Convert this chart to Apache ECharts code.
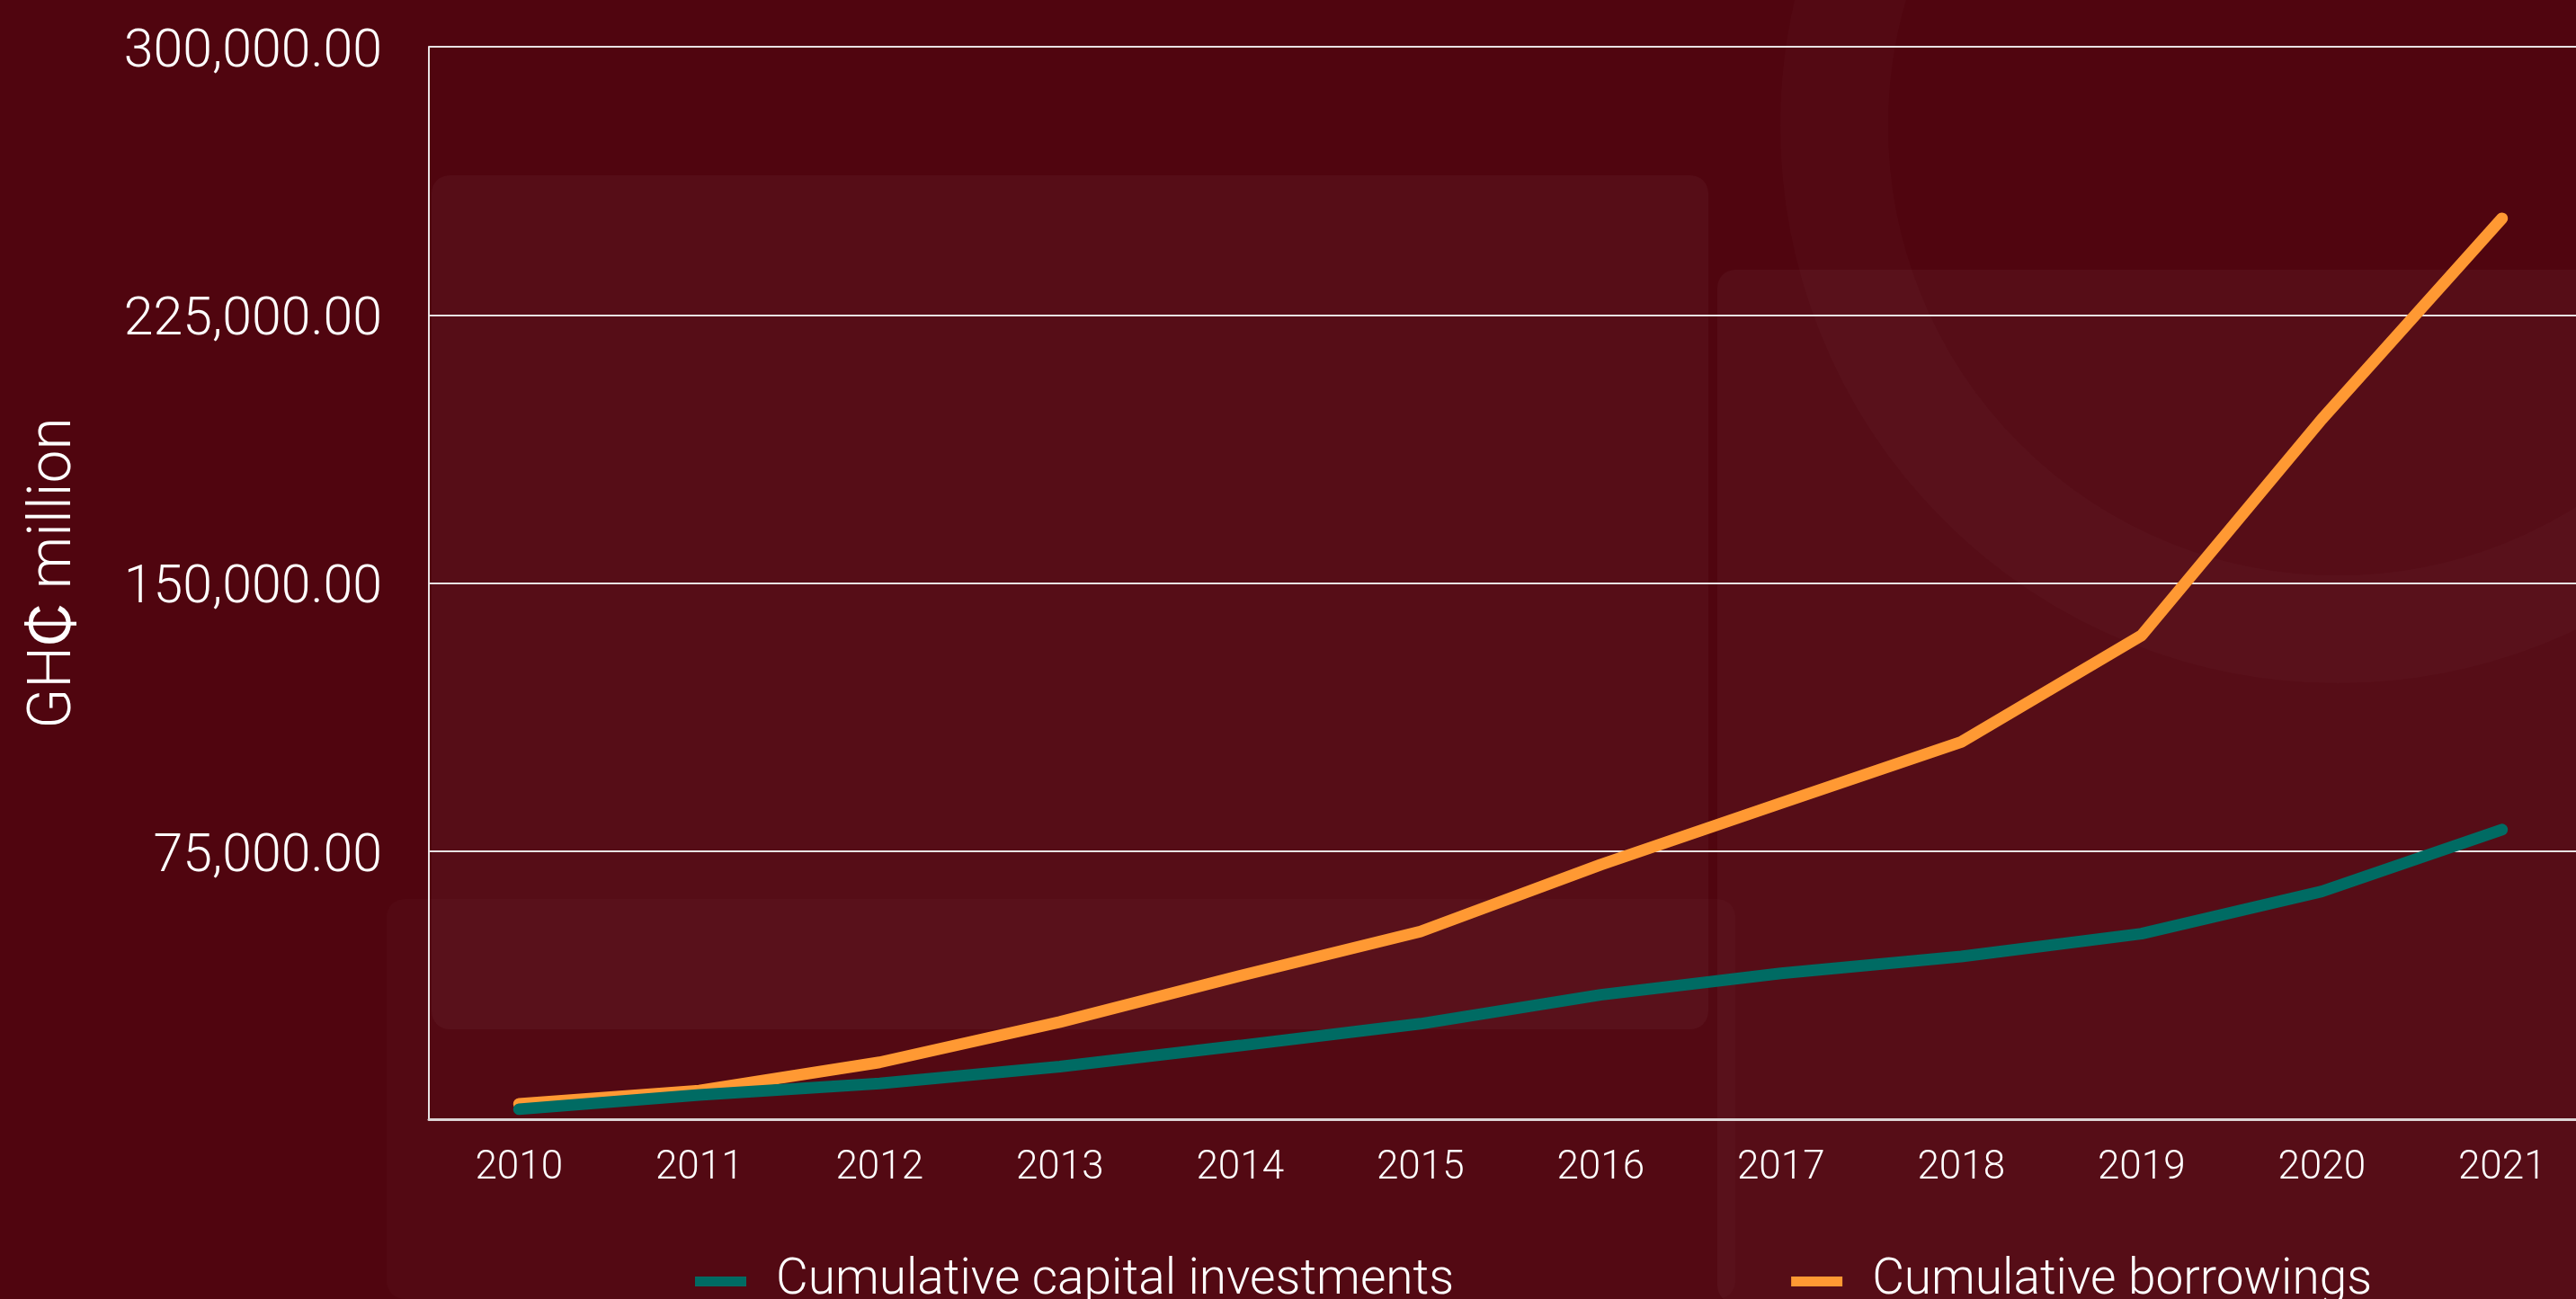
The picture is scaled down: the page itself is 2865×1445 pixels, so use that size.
<!DOCTYPE html>
<html>
<head>
<meta charset="utf-8">
<script src="https://cdn.jsdelivr.net/npm/echarts@6/dist/echarts.min.js"></script>
<style>
html,body{margin:0;padding:0;background:#50050f;overflow:hidden;}
#chart{width:2883px;height:1445px;}
</style>
</head>
<body>
<div id="chart"></div>
<script>
const years = ['2010','2011','2012','2013','2014','2015','2016','2017','2018','2019','2020','2021'];
const capitalInvestments = [2800, 6800, 10000, 14700, 20600, 26700, 34800, 40800, 45500, 51900, 63700, 81000];
const borrowings = [4300, 8000, 15900, 27200, 40100, 52500, 71200, 88400, 105500, 135300, 195800, 252000];
const yTicks = [0, 75000, 150000, 225000, 300000];
const seriesNames = ['Cumulative capital investments', 'Cumulative borrowings'];
const yAxisName = 'GH₵ million';

const FONT = 'Roboto, "Liberation Sans", sans-serif';
const chart = echarts.init(document.getElementById('chart'), null, {renderer: 'canvas'});

function fmt(v) {
  if (v === 0) return '';
  return '{t|' + v.toLocaleString('en-US', {minimumFractionDigits: 2, maximumFractionDigits: 2}) + '}';
}

chart.setOption({
  backgroundColor: '#50050f',
  animation: false,
  graphic: [
    {type: 'circle', z: -11, shape: {cx: 2600, cy: 140, r: 560}, style: {fill: 'none', stroke: 'rgba(255,255,255,0.018)', lineWidth: 120}},
    {type: 'rect', z: -10, shape: {x: 480, y: 195, width: 1420, height: 950, r: 20}, style: {fill: 'rgba(255,255,255,0.035)'}},
    {type: 'rect', z: -10, shape: {x: 1910, y: 300, width: 980, height: 1150, r: 20}, style: {fill: 'rgba(255,255,255,0.035)'}},
    {type: 'rect', z: -10, shape: {x: 430, y: 1000, width: 1500, height: 445, r: 20}, style: {fill: 'rgba(255,255,255,0.02)'}}
  ],
  grid: {left: 477, top: 52, right: 0, bottom: 200, containLabel: false},
  legend: {
    data: seriesNames,
    left: 768,
    top: 1393,
    itemGap: 375,
    itemWidth: 57,
    itemHeight: 11,
    icon: 'rect',
    textStyle: {color: '#ffffff', fontSize: 55, fontFamily: FONT, fontWeight: 300, padding: [0, 0, 0, 28]}
  },
  xAxis: {
    type: 'category',
    data: years,
    boundaryGap: true,
    axisTick: {show: false},
    axisLine: {lineStyle: {color: '#dcd4d5', width: 3}},
    axisLabel: {color: '#ffffff', fontSize: 44, fontFamily: FONT, fontWeight: 300, margin: 33},
    splitLine: {show: false}
  },
  yAxis: {
    type: 'value',
    min: yTicks[0],
    max: yTicks[yTicks.length - 1],
    interval: yTicks[1] - yTicks[0],
    name: yAxisName,
    nameLocation: 'middle',
    nameGap: 383,
    nameTextStyle: {color: '#ffffff', fontSize: 66, fontFamily: FONT, fontWeight: 300, padding: [0, 0, 0, 22]},
    axisLine: {show: true, lineStyle: {color: '#e8e2e3', width: 2}},
    axisTick: {show: false},
    axisLabel: {
      color: '#ffffff', fontSize: 59, fontFamily: FONT, fontWeight: 300, margin: 52, formatter: fmt,
      rich: {t: {color: '#ffffff', fontSize: 59, fontFamily: FONT, fontWeight: 300, padding: [14, 0, 0, 0]}}
    },
    splitLine: {lineStyle: {color: '#e8e2e3', width: 2}}
  },
  series: [
    {
      name: seriesNames[1], type: 'line', data: borrowings, symbol: 'none', z: 2,
      itemStyle: {color: '#ff9933'},
      lineStyle: {color: '#ff9933', width: 13, cap: 'round'}
    },
    {
      name: seriesNames[0], type: 'line', data: capitalInvestments, symbol: 'none', z: 3,
      itemStyle: {color: '#006b63'},
      lineStyle: {color: '#006b63', width: 13, cap: 'round'}
    }
  ]
});
</script>
</body>
</html>
